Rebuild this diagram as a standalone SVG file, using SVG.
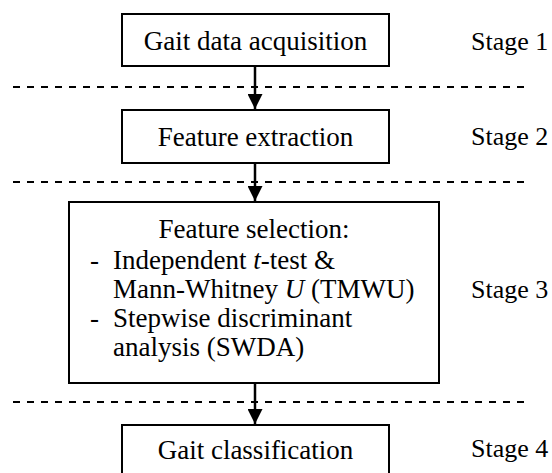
<svg xmlns="http://www.w3.org/2000/svg" width="552" height="473" viewBox="0 0 552 473">
  <style>
    .box { fill: #ffffff; stroke: #000000; stroke-width: 2; }
    .txt { font-family: "Liberation Serif", "Times New Roman", serif; font-size: 27px; fill: #000000; }
    .stage { font-family: "Liberation Serif", "Times New Roman", serif; font-size: 26px; fill: #000000; }
    .mid { text-anchor: middle; }
    .sep { stroke: #000000; stroke-width: 2; stroke-dasharray: 7 7; fill: none; }
    .flow { stroke: #000000; stroke-width: 2.5; fill: none; }
  </style>
  <defs>
    <marker id="head" markerWidth="6" markerHeight="6" refX="6" refY="3" orient="auto" markerUnits="strokeWidth">
      <path d="M0,0 L6,3 L0,6 Z" fill="#000000"/>
    </marker>
  </defs>
  <rect width="552" height="473" fill="#ffffff"/>

  <!-- stage separators -->
  <g id="separators">
    <line class="sep" x1="13" y1="87" x2="525" y2="87"/>
    <line class="sep" x1="13" y1="182" x2="525" y2="182"/>
    <line class="sep" x1="13" y1="402" x2="525" y2="402"/>
  </g>

  <g id="acquisition">
    <rect class="box" x="122" y="14" width="267" height="52"/>
    <text class="txt mid" x="255.5" y="50">Gait data acquisition</text>
  </g>

  <g id="extraction">
    <rect class="box" x="122" y="110" width="267" height="53"/>
    <text class="txt mid" x="255.5" y="146">Feature extraction</text>
  </g>

  <g id="selection">
    <rect class="box" x="69" y="202" width="370" height="181"/>
    <text class="txt mid" x="254" y="238">Feature selection:</text>
    <text class="txt" x="90" y="269">-</text>
    <text class="txt" x="113" y="269">Independent <tspan font-style="italic">t</tspan>-test &amp;</text>
    <text class="txt" x="113" y="298">Mann-Whitney <tspan font-style="italic">U</tspan> (TMWU)</text>
    <text class="txt" x="90" y="327">-</text>
    <text class="txt" x="113" y="327">Stepwise discriminant</text>
    <text class="txt" x="113" y="356">analysis (SWDA)</text>
  </g>

  <g id="classification">
    <rect class="box" x="122" y="425" width="267" height="60"/>
    <text class="txt mid" x="255.5" y="459">Gait classification</text>
  </g>

  <g id="stages">
    <text class="stage" x="471" y="50">Stage 1</text>
    <text class="stage" x="471" y="145">Stage 2</text>
    <text class="stage" x="471" y="298">Stage 3</text>
    <text class="stage" x="471" y="457">Stage 4</text>
  </g>

  <!-- flow arrows -->
  <g id="connectors">
    <line class="flow" x1="255" y1="66" x2="255" y2="109" marker-end="url(#head)"/>
    <line class="flow" x1="255" y1="163" x2="255" y2="201" marker-end="url(#head)"/>
    <line class="flow" x1="255" y1="383" x2="255" y2="424" marker-end="url(#head)"/>
  </g>
</svg>
